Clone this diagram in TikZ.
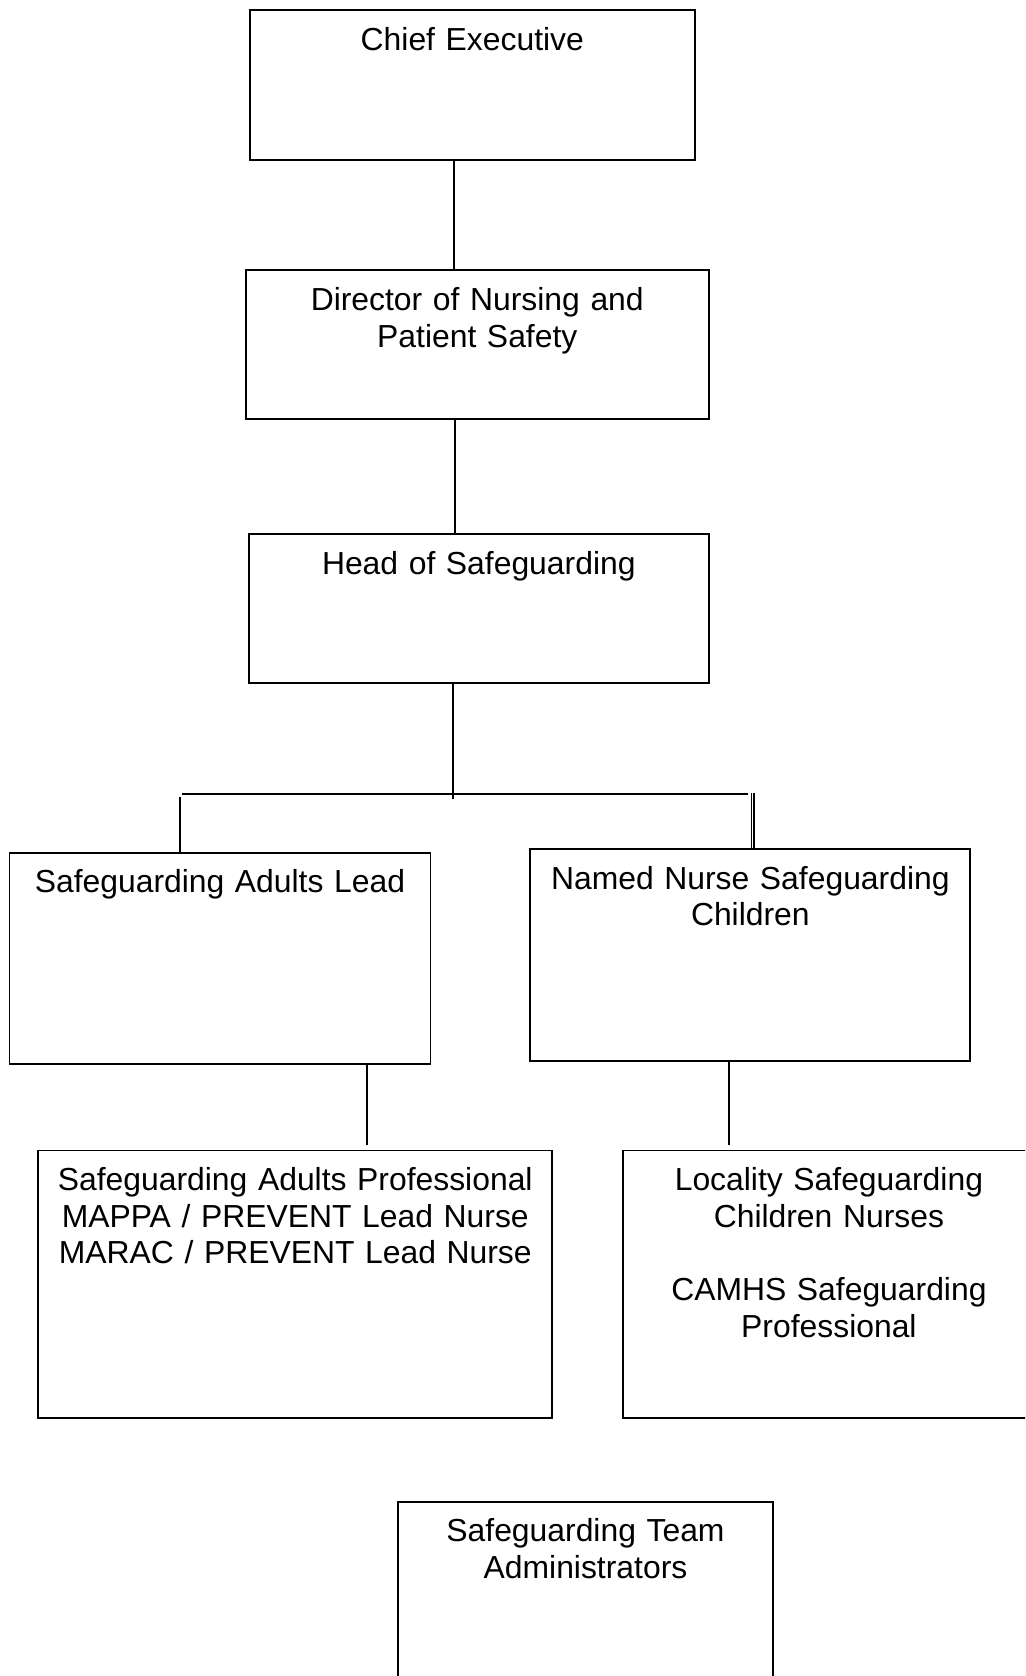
\documentclass[tikz,border=0pt]{standalone}
\usepackage{fontspec}
\setmainfont{Liberation Sans}

\begin{document}
\begin{tikzpicture}[x=0.375pt,y=-0.375pt,line width=0.7pt,every node/.style={draw,anchor=north west,align=center,inner sep=0pt,text height=15pt,font=\fontsize{11.95pt}{13.75pt}\selectfont}]
      \clip (0,0) rectangle (1025,1676);
      \node[text width=167pt,text depth=41.1pt] (ceo) at (248.7,9.3) {Chief Executive};
      \node[text width=173.5pt,text depth=40.7pt] (dir) at (245,269.5) {Director of Nursing and\\Patient Safety};
      \node[text width=172.4pt,text depth=40.8pt] (head) at (248,533.3) {Head of Safeguarding};
      \node[text width=157.9pt,text depth=64.2pt] (sal) at (8.5,851.8) {Safeguarding Adults Lead};
      \node[text width=165pt,text depth=64.4pt] (nnsc) at (529.4,848.3) {Named Nurse Safeguarding\\Children};
      \node[text width=192.7pt,text depth=85.3pt] (sap) at (37.4,1149.5) {Safeguarding Adults Professional\\MAPPA / PREVENT Lead Nurse\\MARAC / PREVENT Lead Nurse};
      \node[text width=154.7pt,text depth=85.4pt] (loc) at (621.7,1149.5) {Locality Safeguarding\\Children Nurses\\[13.75pt]CAMHS Safeguarding\\Professional};
      \node[text width=140.9pt,text depth=59.6pt] (sta) at (396.7,1501) {Safeguarding Team\\Administrators};
      \coordinate (topstem) at (454,0);
      \coordinate (midstem) at (455,0);
      \coordinate (junction) at (453,799);
      \coordinate (busL) at (181.6,794);
      \coordinate (busR) at (747.8,794);
      \coordinate (dropL) at (179.7,797);
      \coordinate (dropR) at (752.5,793);
      \coordinate (adultstem) at (367,1145);
      \coordinate (childstem) at (729.4,1145);
      \draw (ceo.south -| topstem)--(dir.north -| topstem);
      \draw (dir.south -| midstem)--(head.north -| midstem);
      \draw (head.south -| junction)--(junction);
      \draw (busL)--(busR);
      \draw (dropL)--(dropL |- sal.north);
      \draw[double,double distance=0.7pt,line width=0.4pt] (dropR)--(dropR |- nnsc.north);
      \draw (sal.south -| adultstem)--(adultstem);
      \draw (nnsc.south -| childstem)--(childstem);
    \end{tikzpicture}
\end{document}
